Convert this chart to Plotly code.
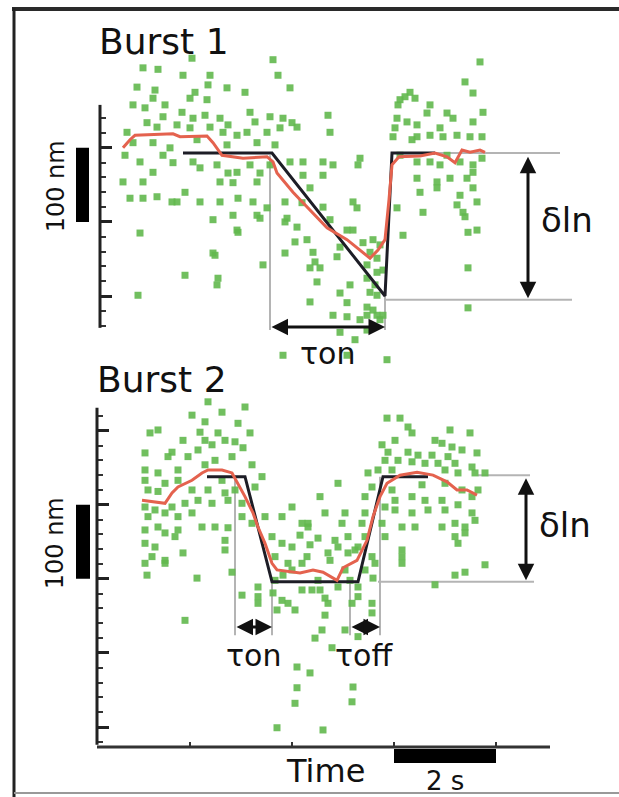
import plotly.graph_objects as go

W, H = 619, 797

# ---------------- data (time in frames @ 51 frames/s, position in nm) ----------------
FPS = 51
b1_frame = [55,70,95,104,122,120,49,67,65,107,139,157,185,190,202,45,57,77,102,119,94,75,105,117,132,140,162,167,182,195,
            204,59,39,69,89,102,122,135,149,159,179,192,209,45,65,82,109,139,169,187,37,52,75,85,105,112,129,140,149,162,
            172,182,202,215,35,55,65,132,145,169,215,42,55,69,84,97,112,132,150,165,179,197,214,89,125,145,169,199,
            392,377,385,240,242,322,312,327,342,339,359,365,385,395,309,319,329,305,329,342,355,369,382,394,312,329,342,352,
            359,372,385,394,235,245,272,270,235,329,349,362,379,385,222,265,269,332,349,372,385,309,335,369,389,375,235,
            310,317,307,324,352,52,172,150,125,175,97,130,129,50,197,209,219,207,197,225,227,222,232,229,249,252,259,265,
            275,285,282,289,279,289,279,262,252,259,222,282,289,279,285,289,279,245,259,252,279,295,315,380,389,380,380,
            195,259,299,377,292,295,287,292,272,267,242,127,149]
b1_nm = [308,306,298,321,298,285,282,278,267,275,281,275,319,298,281,258,254,258,267,265,248,242,240,244,240,231,248,235,242,240,
         234,234,221,228,231,227,228,221,217,221,221,227,228,207,207,200,211,204,207,204,190,181,190,180,181,173,177,166,167,177,
         166,177,181,181,154,154,167,154,153,154,163,132,132,134,127,140,127,127,132,127,119,127,126,127,103,109,109,105,
         316,289,274,244,221,275,265,267,258,247,247,240,235,248,240,235,231,215,215,217,215,217,215,215,190,181,181,177,
         190,181,177,186,181,177,186,177,163,159,154,159,159,167,146,127,119,140,146,136,146,119,113,123,127,113,120,
         258,269,227,211,227,85,105,86,58,42,28,24,15,1,100,93,76,73,58,59,46,38,38,19,53,66,89,89,
         72,76,59,51,42,32,24,15,4,-9,-8,5,1,-15,-19,-26,-26,-26,-28,-49,-46,-26,82,38,89,86,-16,
         -80,-80,-86,107,69,35,15,-32,-32,-59,103,55,89]

b1_smooth_frame = [35,42,47,85,92,119,125,134,155,179,185,189,205,225,239,259,272,282,290,297,301,304,311,332,347,359,367,374,382,392,397]
b1_smooth_nm = [200,211,217,219,215,216,207,190,186,188,181,166,140,112,92,76,62,51,62,76,130,177,188,189,193,188,180,197,194,197,194]

b1_fit_frame = [95,184,297,304,347]
b1_fit_nm = [193,193,0,193,193]

b2_frame = [120,134,157,104,117,150,62,70,112,130,137,162,95,117,84,110,124,147,155,57,80,100,127,144,164,57,70,90,117,134,
            174,57,77,90,104,120,137,147,167,60,70,57,67,84,97,110,124,140,154,60,77,90,104,114,127,140,70,57,77,90,
            154,164,177,194,204,214,220,57,67,87,137,184,194,204,64,77,95,137,187,200,214,219,
            299,312,320,324,362,382,307,294,347,354,364,374,300,320,330,344,360,389,297,310,324,337,350,367,384,397,280,290,
            304,357,370,387,250,284,304,334,357,374,390,232,277,307,324,337,354,370,384,237,257,277,297,307,324,340,357,384,
            220,254,274,294,314,327,354,367,377,387,230,247,260,277,297,367,377,250,270,314,370,240,260,284,314,
            59,109,144,154,170,170,185,194,200,189,207,97,214,224,237,240,264,270,284,284,237,234,227,257,244,270,209,222,
            209,207,265,264,189,235,347,367,377,397,314,287,277,285,57,77,204,187,230,250,270,170,
            212,242,257,222,267,195,262,232]
b2_nm = [439,425,432,421,412,410,397,401,398,397,387,397,387,387,371,374,381,385,377,370,365,365,360,365,354,347,343,347,354,333,
         338,333,329,333,320,320,316,320,324,320,318,297,293,297,302,306,302,306,302,284,289,284,289,270,270,269,270,266,262,266,
         284,275,284,284,297,275,270,248,243,257,252,257,248,243,230,225,235,239,230,221,221,230,
         417,417,405,397,401,397,387,381,387,383,378,374,371,371,367,367,365,370,360,360,358,356,356,356,351,343,343,347,
         347,347,343,343,329,324,320,327,329,320,320,311,311,306,311,306,306,300,311,289,289,289,297,293,289,293,293,289,
         275,275,275,275,270,270,270,275,270,279,255,252,257,257,257,257,262,243,243,239,248,235,235,230,230,
         205,201,209,178,176,167,181,171,167,158,158,144,185,185,174,167,167,176,167,154,151,131,120,131,107,122,81,73,
         53,32,54,34,-1,-4,192,205,209,219,221,221,212,201,221,221,212,198,198,189,189,189,
         259,225,212,246,239,205,198,185]

b2_smooth_frame = [54,64,77,84,90,104,114,120,134,144,150,157,165,170,177,184,189,212,225,235,249,255,269,279,285,292,299,312,329,345,359,369,379,389]
b2_smooth_nm = [306,304,302,316,324,333,343,347,347,343,329,311,289,270,248,221,212,208,212,209,198,215,225,252,284,311,329,340,344,340,331,320,320,313]

b2_fit_frame = [119,157,184,270,295,340]
b2_fit_nm = [338,338,196,196,338,338]

time_span = [9, 462]                       # extent of the time axis (frames)
time_ticks = [102, 204, 306, 408]          # every 2 s
scalebar_s = [306, 408]                    # 2 s
b1_span = [-43, 258]
b2_span = [-24, 431]
b1_major = [0, 100, 200]
b2_major = [0, 100, 200, 300, 400]
b1_minor = [v for v in range(-40, 259, 20) if v % 100]
b2_minor = [v for v in range(-20, 431, 20) if v % 100]

# ---------------- figure ----------------
GREEN = "rgb(98,184,78)"
RED = "rgb(228,98,78)"
DARK = "#1d1d26"
GRAY = "#b4b4b4"
AX = "#222"
FONT = "DejaVu Sans"

def px(p):
    return p / W

def py(p):
    return 1 - p / H

fig = go.Figure()

for xs, ys, fx, fy, sx, sy, xa, ya in [
    (b1_frame, b1_nm, b1_fit_frame, b1_fit_nm, b1_smooth_frame, b1_smooth_nm, "x", "y"),
    (b2_frame, b2_nm, b2_fit_frame, b2_fit_nm, b2_smooth_frame, b2_smooth_nm, "x2", "y2"),
]:
    fig.add_trace(go.Scatter(x=xs, y=ys, mode="markers", xaxis=xa, yaxis=ya, cliponaxis=False,
                             marker=dict(symbol="square", size=7, color=GREEN, opacity=0.9, line=dict(width=0))))
    fig.add_trace(go.Scatter(x=fx, y=fy, mode="lines", xaxis=xa, yaxis=ya, cliponaxis=False,
                             line=dict(color=DARK, width=3)))
    fig.add_trace(go.Scatter(x=sx, y=sy, mode="lines", xaxis=xa, yaxis=ya, cliponaxis=False,
                             line=dict(color=RED, width=3)))

# 1 frame per pixel, 1.35 nm per pixel
xdom = [px(20), px(615)]
xr = [-68, 527]
axis_common = dict(showgrid=False, zeroline=False, showticklabels=False, showline=False)
minor_common = dict(ticks="inside", ticklen=5, tickwidth=2, tickcolor="#333", tickmode="array")
fig.update_layout(
    width=W, height=H, margin=dict(l=0, r=0, t=0, b=0),
    paper_bgcolor="white", plot_bgcolor="rgba(0,0,0,0)", showlegend=False,
    xaxis=dict(domain=xdom, range=xr, visible=False, anchor="y"),
    yaxis=dict(domain=[py(380), py(20)], range=[-113.4, 372.6], anchor="free", position=px(100),
               ticks="inside", ticklen=11, tickwidth=3, tickcolor=AX, tickmode="array", tickvals=b1_major,
               minor=dict(tickvals=b1_minor, **minor_common), **axis_common),
    xaxis2=dict(domain=xdom, range=xr, anchor="free", position=py(747),
                ticks="inside", ticklen=5, tickwidth=2, tickcolor="#333", tickmode="array", tickvals=time_ticks,
                **axis_common),
    yaxis2=dict(domain=[py(760), py(360)], range=[-44.55, 495.45], anchor="free", position=px(97),
                ticks="inside", ticklen=11, tickwidth=3, tickcolor=AX, tickmode="array", tickvals=b2_major,
                minor=dict(tickvals=b2_minor, **minor_common), **axis_common),
)

shapes = []
# axis lines
shapes.append(dict(type="line", xref="paper", yref="y", x0=px(100), x1=px(100), y0=b1_span[0], y1=b1_span[1], line=dict(color=AX, width=3)))
shapes.append(dict(type="line", xref="paper", yref="y2", x0=px(97), x1=px(97), y0=b2_span[0], y1=b2_span[1], line=dict(color=AX, width=3)))
shapes.append(dict(type="line", xref="x2", yref="paper", x0=time_span[0], x1=time_span[1], y0=py(747), y1=py(747), line=dict(color="#333", width=3)))
# frame
shapes.append(dict(type="line", xref="paper", yref="paper", x0=px(12), x1=1, y0=py(9), y1=py(9), line=dict(color="#2a2a2a", width=4)))
shapes.append(dict(type="line", xref="paper", yref="paper", x0=px(14), x1=px(14), y0=py(8), y1=0, line=dict(color="#222", width=3)))
shapes.append(dict(type="line", xref="paper", yref="paper", x0=px(14), x1=1, y0=py(793), y1=py(793), line=dict(color="#999", width=2)))
# 100 nm scale bars
shapes.append(dict(type="rect", xref="paper", yref="y", x0=px(76), x1=px(89), y0=100, y1=200, fillcolor="black", line=dict(width=0)))
shapes.append(dict(type="rect", xref="paper", yref="y2", x0=px(76), x1=px(90), y0=200, y1=300, fillcolor="black", line=dict(width=0)))
# 2 s scale bar
shapes.append(dict(type="rect", xref="x2", yref="paper", x0=scalebar_s[0], x1=scalebar_s[1], y0=py(763), y1=py(749), fillcolor="black", line=dict(width=0)))

def gline(xref, yref, x0, y0, x1, y1):
    shapes.append(dict(type="line", xref=xref, yref=yref, x0=x0, y0=y0, x1=x1, y1=y1, line=dict(color=GRAY, width=2), layer="below"))

# burst 1 guides
gline("x", "y", 182, 190, 182, -46)
gline("x", "y", 297, 0, 297, -46)
gline("x", "y", 307, 193, 472, 193)
gline("x", "y", 297, -5, 484, -5)
# burst 2 guides
gline("x2", "y2", 147, 338, 147, 124)
gline("x2", "y2", 184, 196, 184, 124)
gline("x2", "y2", 262, 196, 262, 124)
gline("x2", "y2", 292, 338, 292, 124)
gline("x2", "y2", 390, 340, 442, 340)
gline("x2", "y2", 290, 196, 446, 196)
fig.update_layout(shapes=shapes)

ann = []
def arrow(xref, yref, x0, y0, x1, y1):
    ann.append(dict(xref=xref, yref=yref, axref=xref, ayref=yref, x=x1, y=y1, ax=x0, ay=y0, text="",
                    showarrow=True, arrowside="end+start", arrowhead=2, startarrowhead=2,
                    arrowsize=1.1, startarrowsize=1.1, arrowwidth=3, arrowcolor="#111"))

def label(text, xref, yref, x, y, size, xanchor="center", angle=0):
    ann.append(dict(xref=xref, yref=yref, x=x, y=y, text=text, showarrow=False, xanchor=xanchor, yanchor="middle",
                    textangle=angle, font=dict(family=FONT, size=size, color="#111")))

arrow("x", "y", 440, 190, 440, -3)
arrow("x", "y", 182, -42, 297, -42)
arrow("x2", "y2", 438, 338, 438, 198)
arrow("x2", "y2", 147, 135, 184, 135)
arrow("x2", "y2", 262, 135, 292, 135)

label("Burst 1", "paper", "paper", px(97), py(42), 36, xanchor="left")
label("Burst 2", "paper", "paper", px(95), py(379), 36, xanchor="left")
label("δln", "x", "y", 479, 103, 34)
label("τon", "x", "y", 239, -78, 30)
label("δln", "x2", "y2", 477, 273, 34)
label("τon", "x2", "y2", 165, 97, 30)
label("τoff", "x2", "y2", 276, 97, 30)
label("100 nm", "paper", "y", px(56), 148, 24, angle=-90)
label("100 nm", "paper", "y2", px(55), 248, 24, angle=-90)
label("Time", "paper", "paper", px(325), py(771), 32)
label("2 s", "x2", "paper", 357, py(781), 26)
fig.update_layout(annotations=ann)

fig.write_html("out.html")
